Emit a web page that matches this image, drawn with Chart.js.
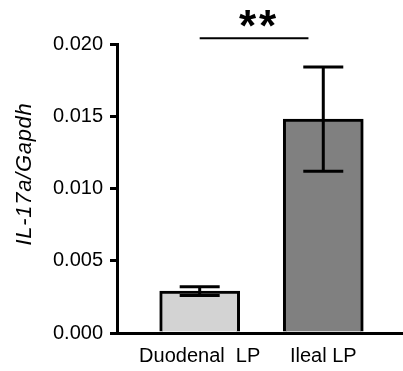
<!DOCTYPE html>
<html><head><meta charset="utf-8">
<script src="https://cdn.jsdelivr.net/npm/chart.js@4/dist/chart.umd.min.js"></script>
<style>html,body{margin:0;padding:0;background:#fff}#wrap{width:403px;height:371px}</style>
</head><body><div id="wrap"><canvas id="c" width="403" height="371"></canvas></div>
<script>
const categories = ['Duodenal  LP', 'Ileal LP'];
const positions = [1, 2];
const means = [0.0029, 0.0148];
const sems = [0.0003, 0.0036];
const barColors = ['#d3d3d3', '#808080'];
const yTicks = [0, 0.005, 0.010, 0.015, 0.020];
const yTitle = 'IL-17a/Gapdh';
const sigLabel = '**';
const sigSpan = [1, 1.88];
const sigLevel = 0.0204;

const FONT = 'Liberation Sans, Arial, sans-serif';

const extras = {
  id: 'extras',
  afterDatasetsDraw(chart) {
    const {ctx, scales: {x, y}} = chart;
    ctx.save();
    ctx.strokeStyle = '#000';
    ctx.lineWidth = 3;
    positions.forEach((p, i) => {
      const px = x.getPixelForValue(p);
      const hi = y.getPixelForValue(means[i] + sems[i]);
      const lo = y.getPixelForValue(means[i] - sems[i]);
      ctx.beginPath();
      ctx.moveTo(px, hi); ctx.lineTo(px, lo);
      ctx.moveTo(px - 20, hi); ctx.lineTo(px + 20, hi);
      ctx.moveTo(px - 20, lo); ctx.lineTo(px + 20, lo);
      ctx.stroke();
    });
    ctx.restore();
  },
  afterDraw(chart) {
    const {ctx, scales: {x, y}} = chart;
    ctx.save();
    const x1 = x.getPixelForValue(sigSpan[0]);
    const x2 = x.getPixelForValue(sigSpan[1]);
    const sy = y.getPixelForValue(sigLevel);
    ctx.strokeStyle = '#000';
    ctx.lineWidth = 2;
    ctx.beginPath();
    ctx.moveTo(x1, sy); ctx.lineTo(x2, sy);
    ctx.stroke();
    ctx.fillStyle = '#000';
    ctx.font = 'bold 44px ' + FONT;
    ctx.letterSpacing = '3px';
    ctx.textAlign = 'center';
    ctx.textBaseline = 'alphabetic';
    ctx.fillText(sigLabel, (x1 + x2) / 2 + 5, sy + 3);
    ctx.letterSpacing = '0.7px';
    ctx.translate(25, 174);
    ctx.rotate(-Math.PI / 2);
    ctx.font = 'italic 22px ' + FONT;
    ctx.textBaseline = 'middle';
    ctx.fillText(yTitle, 0, 0);
    ctx.restore();
  }
};

new Chart(document.getElementById('c'), {
  type: 'bar',
  data: {
    datasets: [{
      data: positions.map((p, i) => ({x: p, y: means[i]})),
      backgroundColor: barColors,
      borderColor: '#000',
      borderWidth: 3,
      borderSkipped: 'start',
      barThickness: 80
    }]
  },
  options: {
    responsive: false,
    animation: false,
    devicePixelRatio: 1,
    layout: {padding: {top: 44, right: 0, bottom: 0, left: 0}},
    plugins: {legend: {display: false}, tooltip: {enabled: false}},
    scales: {
      x: {
        type: 'linear', min: 0.331, max: 2.645, offset: false,
        afterBuildTicks: s => { s.ticks = positions.map(v => ({value: v})); },
        ticks: {
          callback: v => categories[positions.indexOf(v)],
          color: '#000', font: {size: 20, family: FONT},
          padding: 11, maxRotation: 0, autoSkip: false
        },
        grid: {display: true, drawOnChartArea: false, drawTicks: false, offset: false},
        border: {display: true, color: '#000', width: 3},
        afterFit: s => { s.height = 38; }
      },
      y: {
        min: 0, max: 0.02,
        afterBuildTicks: s => { s.ticks = yTicks.map(v => ({value: v})); },
        ticks: {
          callback: v => v.toFixed(3),
          color: '#000', font: {size: 20, family: FONT}, padding: 7
        },
        grid: {drawOnChartArea: false, drawTicks: true, tickLength: 7, color: '#000', lineWidth: 3},
        border: {display: true, color: '#000', width: 3},
        afterFit: s => { s.width = 117; }
      }
    }
  },
  plugins: [extras]
});
</script>
</body></html>
